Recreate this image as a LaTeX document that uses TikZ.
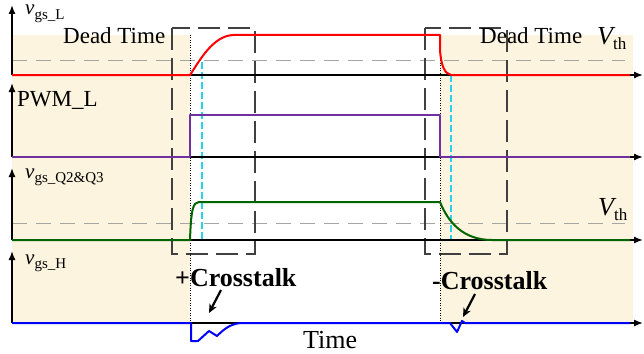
\documentclass[tikz,border=0pt]{standalone}
\usepackage{fontspec}
\setmainfont{Liberation Serif}
\usetikzlibrary{arrows.meta}
\definecolor{beige}{RGB}{253,244,223}
\definecolor{sigred}{RGB}{255,0,0}
\definecolor{sigpurple}{RGB}{112,48,160}
\definecolor{siggreen}{RGB}{0,100,0}
\definecolor{sigblue}{RGB}{0,0,255}
\definecolor{cyanl}{RGB}{40,210,235}
\definecolor{boxgray}{RGB}{64,64,64}
\definecolor{vthgray}{RGB}{165,165,165}
\newcommand{\ylabel}[2]{{\fontsize{21}{21}\selectfont\itshape #1}\raisebox{-4.5pt}{\fontsize{15}{15}\selectfont #2}}
\newcommand{\vthlabel}{{\fontsize{26}{26}\selectfont\itshape V}\raisebox{-5pt}{\fontsize{17}{17}\selectfont th}}
\begin{document}
\begin{tikzpicture}[x=1pt,y=-1pt,
  axis/.style={line width=1.4pt,-{Latex[length=9pt,width=7pt]}},
  sig/.style={line width=2pt,line join=round},
  vth/.style={vthgray,line width=1pt,dash pattern=on 15pt off 9pt},
  dbox/.style={boxgray,line width=2pt,dash pattern=on 22pt off 8pt},
  dotline/.style={black,line width=0.8pt,dash pattern=on 1pt off 1.5pt},
  cyanline/.style={cyanl,line width=1.2pt,dash pattern=on 7pt off 3pt},
  lbl/.style={inner sep=0pt,anchor=base west},
  callout/.style={line width=2.2pt,-{Stealth[length=9pt,width=8pt]}}]
\useasboundingbox (0,0) rectangle (644,353);
% backgrounds
\fill[beige] (12,35) rectangle (190,323);
\fill[beige] (440,35) rectangle (633,323);
% threshold lines
\draw[vth] (12,60) -- (625,60);
\draw[vth] (12,223) -- (625,223);
% dead time boxes
\draw[dbox] (172,28) rectangle (255,254);
\draw[dbox] (425,28) rectangle (507,254);
% dotted edges
\draw[dotline] (190,35) -- (190,323);
\draw[dotline] (440,35) -- (440,323);
% cyan markers
\draw[cyanline] (202,62) -- (202,240);
\draw[cyanline] (451,75) -- (451,240);
% axes
\coordinate (o1) at (12,75); \coordinate (y1) at (12,5); \coordinate (x1) at (643,75);
\coordinate (o2) at (12,157); \coordinate (y2) at (12,83); \coordinate (x2) at (643,157);
\coordinate (o3) at (12,240); \coordinate (y3) at (12,168); \coordinate (x3) at (643,240);
\coordinate (o4) at (12,323); \coordinate (y4) at (12,251); \coordinate (x4) at (643,323);
\foreach \i in {1,2,3,4}{
  \draw[axis] (o\i) -- (y\i);
  \draw[axis] (o\i) -- (x\i);
}
% signals
\draw[sig,sigred] (12,75) -- (190,75) .. controls (200,60) and (213,36) .. (233,35) -- (440,35) -- (440,50) .. controls (441,66) and (445,74) .. (451,75) -- (630,75);
\draw[sig,sigpurple] (12,157) -- (190,157) -- (190,115) -- (440,115) -- (440,157) -- (630,157);
\draw[sig,siggreen] (12,240) -- (190,240) .. controls (191,210) and (193,202) .. (199,202) -- (440,202) .. controls (448,222) and (463,240) .. (492,240) -- (630,240);
\draw[sig,sigblue] (12,323) -- (191,323) -- (191,341) -- (198,341) -- (209,331) -- (217,336) .. controls (225,328) and (232,323) .. (243,323) -- (450,323) -- (457,332) -- (462,321) -- (465,323) -- (630,323);
% labels
\node[lbl] (lvgsl) at (25,15) {\ylabel{v}{gs\_L}};
\node[lbl] (lpwm) at (17,106) {\fontsize{23}{23}\selectfont PWM\_L};
\node[lbl] (lvgsq) at (25,178) {\ylabel{v}{gs\_Q2\&Q3}};
\node[lbl] (lvgsh) at (25,264) {\ylabel{v}{gs\_H}};
\node[lbl] (ldt1) at (63,44) {\fontsize{23}{23}\selectfont Dead Time};
\node[lbl] (ldt2) at (480,44) {\fontsize{23}{23}\selectfont Dead Time};
\node[lbl] (lvth1) at (597,45) {\vthlabel};
\node[lbl] (lvth2) at (598,215) {\vthlabel};
\node[lbl] (lct1) at (175,286) {\fontsize{26}{26}\selectfont\bfseries +Crosstalk};
\node[lbl] (lct2) at (432,289) {\fontsize{26}{26}\selectfont\bfseries -Crosstalk};
\node[lbl] (ltime) at (303,348) {\fontsize{26}{26}\selectfont Time};
% callouts
\coordinate (a1s) at (221,290); \coordinate (a1e) at (209,313);
\coordinate (a2s) at (475,294); \coordinate (a2e) at (463,317);
\draw[callout] (a1s) -- (a1e);
\draw[callout] (a2s) -- (a2e);
\end{tikzpicture}
\end{document}
